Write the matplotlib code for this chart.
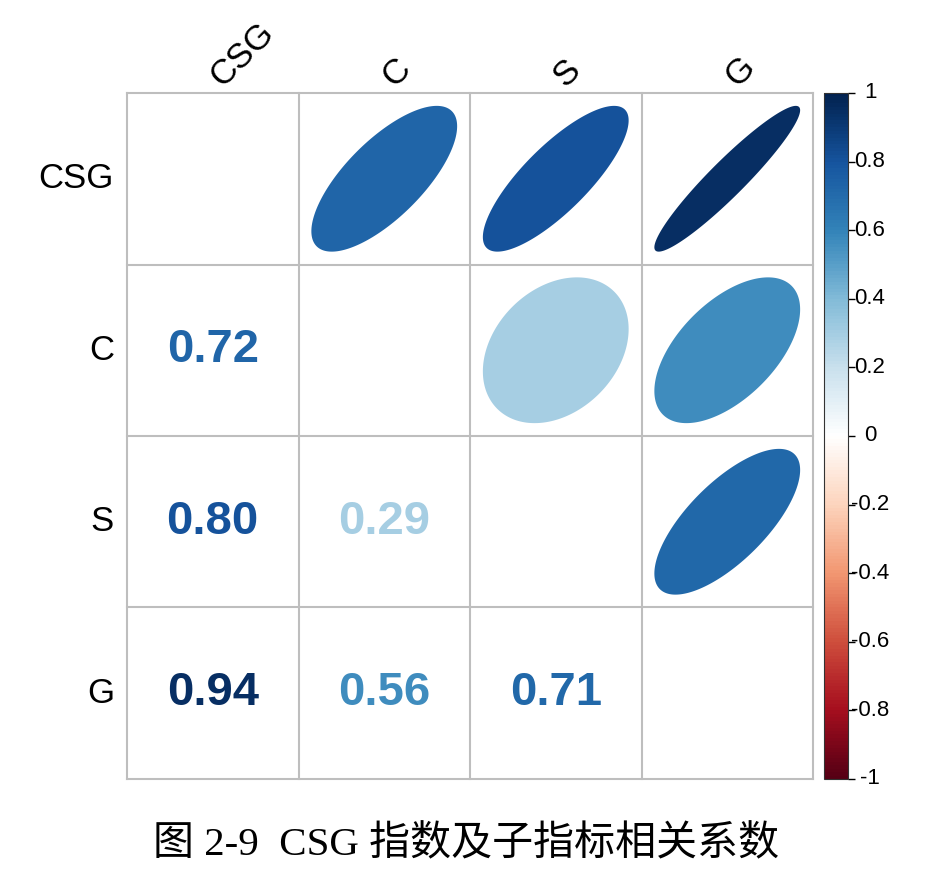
import numpy as np
import matplotlib
matplotlib.use("Agg")
import matplotlib.pyplot as plt
from matplotlib.colors import LinearSegmentedColormap, Normalize
from matplotlib.patches import Polygon
import matplotlib.cm as cm

labels = ["CSG", "C", "S", "G"]
corr = np.array([
    [1.00, 0.72, 0.80, 0.94],
    [0.72, 1.00, 0.29, 0.56],
    [0.80, 0.29, 1.00, 0.71],
    [0.94, 0.56, 0.71, 1.00],
])
cbar_ticks = [-1, -0.8, -0.6, -0.4, -0.2, 0, 0.2, 0.4, 0.6, 0.8, 1]
cbar_ticklabels = ["-1", "-0.8", "-0.6", "-0.4", "-0.2", "0", "0.2", "0.4", "0.6", "0.8", "1"]
caption = "图 2-9  CSG 指数及子指标相关系数"

rdbu = ["#67001F", "#B2182B", "#D6604D", "#F4A582", "#FDDBC7", "#FFFFFF",
        "#D1E5F0", "#92C5DE", "#4393C3", "#2166AC", "#053061"]
base = LinearSegmentedColormap.from_list("base", rdbu, N=200)
samples = base(np.linspace(0, 1, 200))[:, :3] ** 1.2
cmap = LinearSegmentedColormap.from_list("corrRdBu", samples, N=200)
norm = Normalize(-1, 1)

W, H = 932, 875
fig = plt.figure(figsize=(W / 100, H / 100), dpi=100)
fig.patch.set_facecolor("white")

gl, gr, gt, gb = 127, 813, 93, 779
ax = fig.add_axes([gl / W, 1 - gb / H, (gr - gl) / W, (gb - gt) / H])
n = len(labels)
ax.set_xlim(0, n)
ax.set_ylim(0, n)
ax.set_aspect("equal")
ax.axis("off")

grid_col = "#BEBEBE"
for k in range(n + 1):
    ax.plot([k, k], [0, n], color=grid_col, lw=1.5, zorder=1, clip_on=False)
    ax.plot([0, n], [k, k], color=grid_col, lw=1.5, zorder=1, clip_on=False)

t = np.linspace(0, 2 * np.pi, 200)
for i in range(n):
    for j in range(n):
        r = corr[i, j]
        cx = j + 0.5
        cy = n - i - 0.5
        col = cmap(norm(r))
        if j > i:
            a = np.arccos(r)
            xs = cx + 0.85 * np.cos(t + a / 2) / 2
            ys = cy + 0.85 * np.cos(t - a / 2) / 2
            ax.add_patch(Polygon(np.column_stack([xs, ys]), closed=True,
                                 facecolor=col, edgecolor="none", zorder=2))
        elif j < i:
            ax.text(cx, cy, f"{r:.2f}", ha="center", va="center",
                    fontsize=34, fontweight="bold", color=col,
                    family="Liberation Sans", zorder=3)

cell = (gr - gl) / n
for k, lab in enumerate(labels):
    yc = gt + cell * (k + 0.5)
    fig.text(114 / W, 1 - yc / H, lab, ha="right", va="center",
             fontsize=25, family="Liberation Sans", color="black")
    xc = gl + cell * (k + 0.5)
    fig.text((xc + 10) / W, 1 - 88 / H, lab, ha="left", va="baseline",
             rotation=45, rotation_mode="anchor",
             fontsize=25, family="Liberation Sans", color="black")

# colorbar
cax = fig.add_axes([824 / W, 1 - gb / H, 24 / W, (gb - gt) / H])
cb = fig.colorbar(cm.ScalarMappable(norm=norm, cmap=cmap), cax=cax)
cb.set_ticks(cbar_ticks)
cb.set_ticklabels([""] * len(cbar_ticks))
cb.outline.set_edgecolor("#333333")
cb.outline.set_linewidth(0.8)
cax.tick_params(axis="y", length=5, width=1, direction="out", colors="black")
for v, s in zip(cbar_ticks, cbar_ticklabels):
    cax.text((870 - 824) / 24, v, s, ha="center", va="center",
             fontsize=16, family="Liberation Sans", color="black",
             transform=cax.get_yaxis_transform(), clip_on=False)

fig.text(0.5, 1 - 845 / H, caption, ha="center", va="center",
         fontsize=29.5, family=["Liberation Serif", "Noto Sans CJK SC"], color="black")

fig.savefig("out.png", dpi=100, facecolor="white")
